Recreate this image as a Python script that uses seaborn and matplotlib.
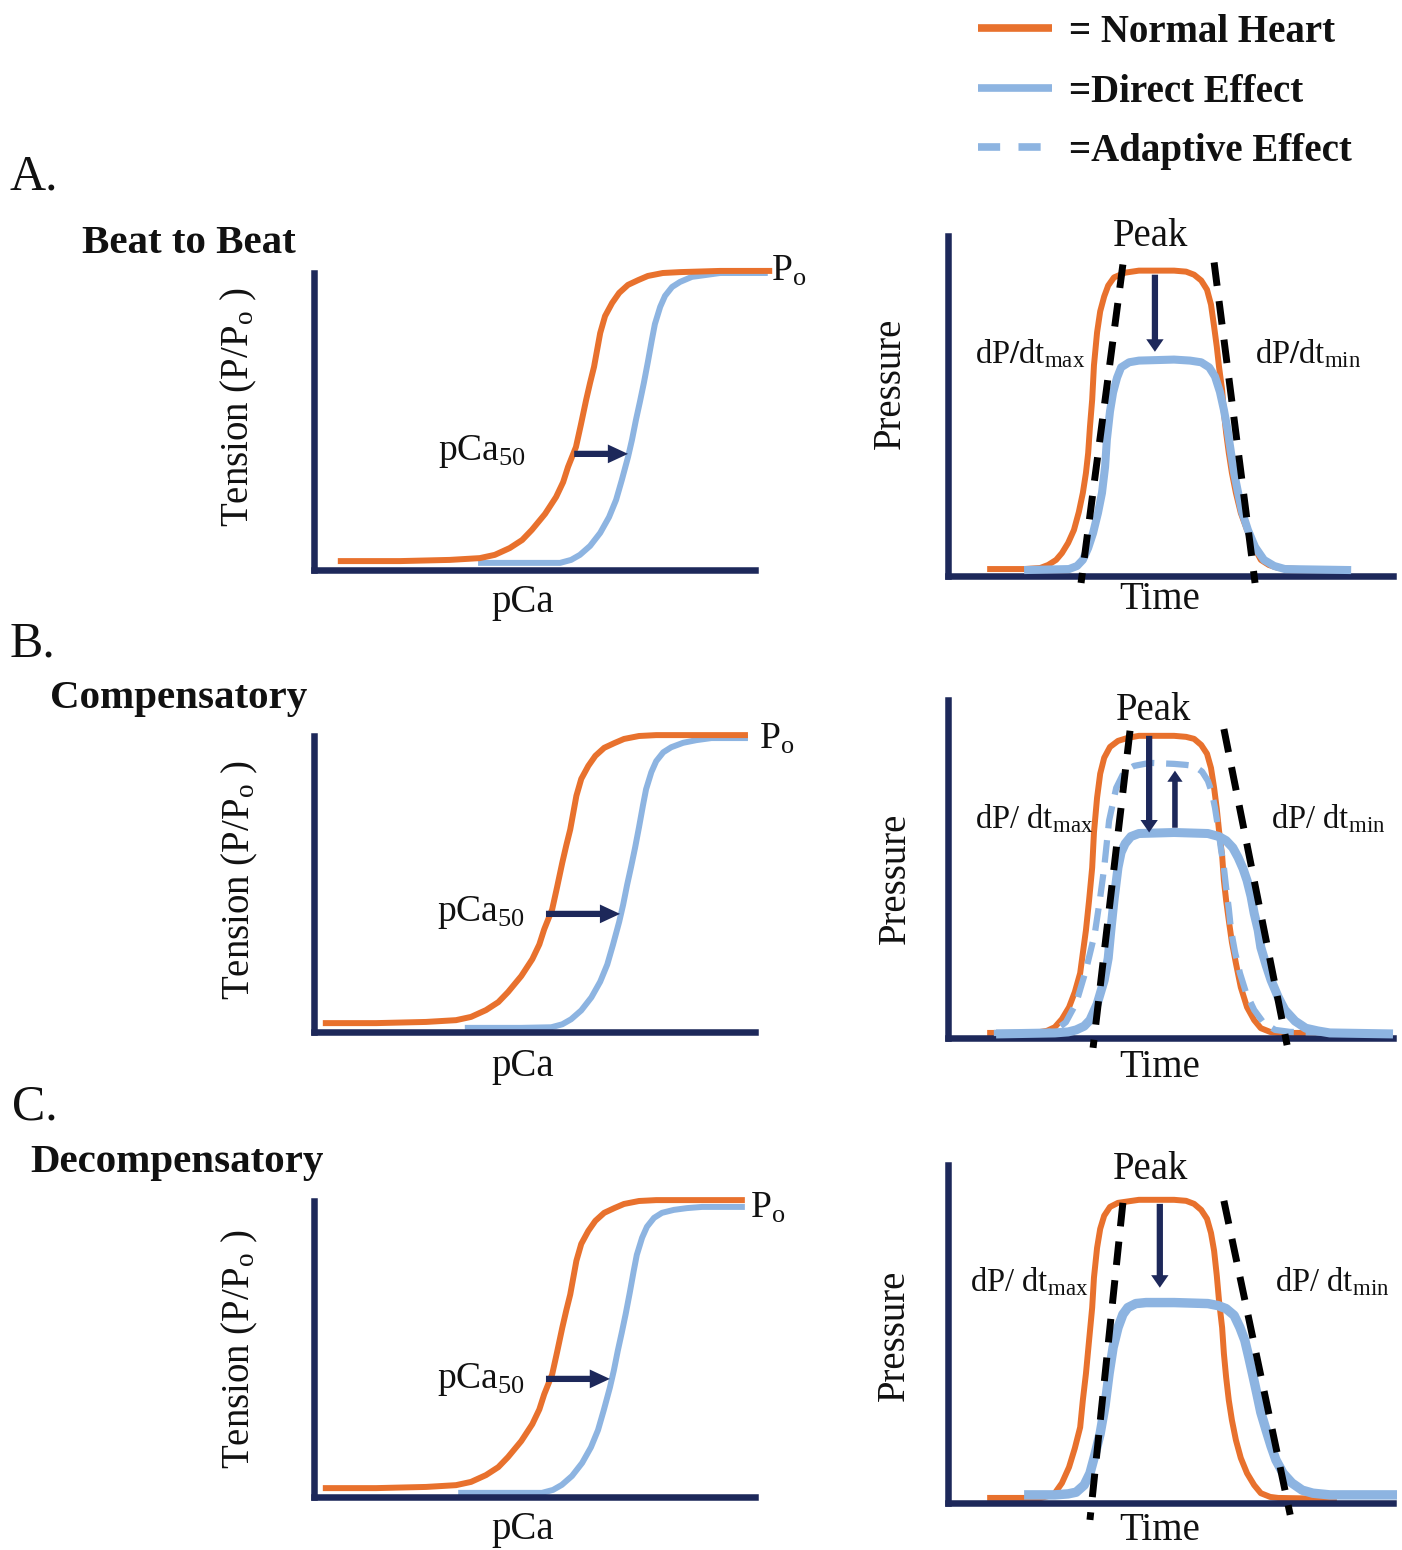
import matplotlib
matplotlib.use("Agg")
import matplotlib.pyplot as plt
from matplotlib.lines import Line2D
from matplotlib.font_manager import FontProperties
import seaborn as sns

# ---------------------------------------------------------------- data
# Left column: tension (% of P_o) versus pCa position (0-100 along the axis)
pca_a_normal_x = [5.4, 19.5, 30.8, 37.6, 41.0, 44.4, 47.2, 49.4, 52.4, 54.9, 56.5, 57.6, 59.4, 60.5, 61.7,
                  62.6, 63.5, 64.2, 64.9, 66.0, 67.6, 69.2, 71.2, 73.5, 75.7, 79.1, 83.0, 92.1, 103.9]
pca_a_normal_y = [3.0, 3.0, 3.4, 4.0, 5.1, 7.4, 10.1, 13.5, 18.9, 24.6, 29.6, 34.7, 41.4, 48.8, 57.2,
                  63.0, 68.4, 74.1, 79.8, 85.5, 89.9, 93.3, 96.0, 97.6, 99.0, 100.0, 100.3, 100.7, 100.7]
pca_a_direct_x = [37.2, 49.0, 55.8, 58.3, 60.3, 62.6, 64.9, 66.9, 68.5, 69.8, 71.2, 72.1, 73.0, 73.9,
                  74.8, 75.7, 76.6, 77.3, 78.5, 79.6, 81.2, 83.0, 85.7, 88.7, 92.1, 102.9]
pca_a_direct_y = [2.4, 2.4, 2.4, 3.4, 5.1, 8.1, 12.5, 17.8, 23.6, 30.3, 38.0, 43.8, 50.5, 56.6,
                  63.0, 70.0, 77.4, 82.8, 88.6, 92.3, 95.3, 97.0, 98.7, 99.3, 100.0, 100.0]

pca_b_normal_x = [2.0, 14.1, 25.4, 32.2, 35.6, 39.0, 41.8, 44.0, 47.0, 49.5, 51.1, 52.2, 54.0, 55.1, 56.3,
                  57.2, 58.1, 58.8, 59.5, 60.6, 62.2, 63.8, 65.8, 68.1, 70.3, 73.7, 77.6, 86.7, 98.4]
pca_b_normal_y = [3.0, 3.0, 3.4, 4.0, 5.1, 7.4, 10.1, 13.5, 18.9, 24.6, 29.6, 34.7, 41.4, 48.8, 57.2,
                  63.0, 68.4, 74.1, 79.8, 85.5, 89.9, 93.3, 96.0, 97.6, 99.0, 100.0, 100.3, 100.3, 100.3]
pca_b_direct_x = [34.2, 47.0, 53.8, 56.3, 58.3, 60.6, 62.9, 64.9, 66.5, 67.8, 69.2, 70.1, 71.0, 71.9,
                  72.8, 73.7, 74.6, 75.3, 76.5, 77.6, 79.2, 81.0, 83.7, 86.7, 90.1, 98.4]
pca_b_direct_y = [1.4, 1.4, 1.6, 2.6, 4.3, 7.3, 11.7, 17.0, 22.8, 29.5, 37.2, 43.0, 49.7, 55.8,
                  62.2, 69.2, 76.6, 82.0, 87.8, 91.5, 94.5, 96.2, 97.7, 98.6, 99.3, 99.3]

pca_c_normal_x = [2.0, 14.1, 25.4, 32.2, 35.6, 39.0, 41.8, 44.0, 47.0, 49.5, 51.1, 52.2, 54.0, 55.1, 56.3,
                  57.2, 58.1, 58.8, 59.5, 60.6, 62.2, 63.8, 65.8, 68.1, 70.3, 73.7, 77.6, 86.7, 97.7]
pca_c_normal_y = [3.0, 3.0, 3.4, 4.0, 5.1, 7.4, 10.1, 13.5, 18.9, 24.6, 29.6, 34.7, 41.4, 48.8, 57.2,
                  63.0, 68.4, 74.1, 79.8, 85.5, 89.9, 93.3, 96.0, 97.6, 99.0, 100.0, 100.3, 100.3, 100.3]
pca_c_direct_x = [32.7, 44.9, 51.7, 54.2, 56.2, 58.5, 60.8, 62.8, 64.4, 65.7, 67.1, 68.0, 68.9, 69.8,
                  70.7, 71.6, 72.5, 73.2, 74.4, 75.5, 77.1, 78.9, 81.6, 84.6, 88.0, 97.7]
pca_c_direct_y = [1.4, 1.4, 1.4, 2.4, 4.1, 7.1, 11.5, 16.8, 22.6, 29.3, 37.0, 42.8, 49.5, 55.6,
                  62.0, 69.0, 76.4, 81.8, 87.6, 91.3, 94.3, 96.0, 97.0, 97.6, 98.0, 98.0]

# pCa50 shift arrows: (x_start, x_end, y)
pca50_shift_a = [59.0, 71.2, 39.1]
pca50_shift_b = [52.6, 69.4, 39.9]
pca50_shift_c = [52.6, 67.1, 39.9]

# Right column: pressure versus time (0-100 along each axis)
prs_a_normal_x = [8.8, 17.1, 20.7, 22.5, 24.3, 25.6, 27.0, 28.3, 29.4, 30.3, 31.0, 31.5, 31.9, 32.4, 32.8,
                  33.5, 34.2, 35.1, 36.0, 37.3, 39.8, 42.9, 50.8, 53.5, 55.3, 56.9, 58.2, 59.1, 59.8,
                  60.4, 60.9, 61.6, 62.0, 62.5, 63.1, 63.8, 64.7, 65.8, 67.2, 68.8, 70.3, 72.1, 74.2,
                  79.1, 87.4]
prs_a_normal_y = [1.9, 1.9, 2.2, 3.1, 4.6, 6.6, 9.6, 13.4, 18.7, 24.3, 30.2, 36.1, 43.8, 51.8, 61.9,
                  71.6, 77.8, 82.2, 85.4, 87.8, 89.2, 89.8, 89.8, 89.5, 88.6, 86.9, 84.2, 79.8, 73.3,
                  67.4, 61.5, 54.7, 48.0, 42.0, 36.1, 30.2, 24.3, 18.4, 13.4, 8.4, 4.6, 3.1, 2.2,
                  1.9, 1.9]
prs_a_direct_x = [17.1, 27.2, 29.0, 30.3, 31.5, 32.6, 33.7, 34.6, 35.3, 35.7, 36.4, 37.1, 38.0, 38.9,
                  40.7, 42.9, 50.8, 54.4, 56.9, 58.7, 60.0, 61.1, 62.0, 62.9, 63.6, 64.3, 65.2, 66.1,
                  67.4, 69.0, 71.0, 73.3, 75.7, 90.6]
prs_a_direct_y = [1.6, 1.9, 2.8, 4.6, 8.1, 12.5, 18.4, 24.3, 32.0, 40.0, 48.3, 53.9, 58.3, 61.3,
                  62.8, 63.3, 63.6, 63.3, 62.8, 61.3, 58.6, 54.1, 48.8, 42.3, 36.1, 30.2, 24.3, 18.7,
                  13.4, 8.4, 4.6, 2.8, 1.9, 1.6]

prs_b_normal_x = [8.8, 19.3, 22.2, 24.0, 25.6, 27.2, 28.5, 29.7, 30.3, 31.0, 31.7, 32.4, 32.8, 33.5,
                  34.2, 35.1, 36.4, 38.2, 40.4, 42.9, 50.8, 53.5, 55.3, 56.9, 58.2, 59.1, 59.8, 60.4,
                  60.9, 61.6, 62.0, 62.5, 63.1, 63.8, 64.7, 65.8, 67.2, 68.8, 70.3, 72.4, 74.2, 87.4]
prs_b_normal_y = [1.5, 1.5, 2.1, 3.2, 5.6, 9.1, 13.6, 19.2, 25.1, 31.9, 40.7, 50.4, 60.8, 71.1,
                  78.2, 82.9, 86.1, 87.9, 88.8, 89.4, 89.4, 89.1, 88.5, 86.7, 84.1, 79.9, 74.0, 67.8,
                  61.4, 54.0, 46.6, 40.7, 34.8, 28.3, 22.1, 15.0, 9.1, 5.3, 2.9, 1.8, 1.5, 1.5]
prs_b_direct_x = [10.8, 24.0, 27.0, 28.8, 30.6, 31.9, 33.5, 35.1, 36.0, 36.6, 37.3, 38.2, 38.9, 39.8,
                  41.1, 42.9, 50.8, 58.4, 60.9, 62.5, 64.0, 65.2, 66.3, 67.2, 68.1, 68.8, 69.7, 70.3,
                  71.5, 72.6, 74.2, 75.7, 78.0, 80.4, 83.1, 85.8, 100.0]
prs_b_direct_y = [1.2, 1.5, 1.8, 2.4, 3.5, 5.3, 10.0, 17.1, 23.6, 31.9, 40.7, 50.4, 54.9, 57.5,
                  59.6, 60.5, 60.8, 60.5, 59.6, 58.4, 56.3, 53.4, 50.1, 46.6, 41.9, 36.9, 31.9, 26.8,
                  21.5, 17.1, 12.1, 8.3, 5.0, 2.9, 2.1, 1.5, 1.2]
prs_b_adaptive_x = [10.3, 20.7, 24.0, 26.5, 28.8, 31.0, 33.0, 34.2, 35.1, 36.2, 37.8, 39.6, 41.8, 45.4,
                    50.8, 53.5, 55.3, 57.1, 58.4, 59.3, 60.0, 60.7, 61.3, 62.0, 62.5, 63.1, 63.6, 64.5,
                    65.6, 67.0, 68.8, 70.8, 73.5, 76.9, 88.3]
prs_b_adaptive_y = [1.5, 1.5, 2.1, 4.7, 10.3, 20.1, 31.0, 41.6, 50.4, 64.3, 74.0, 78.8, 80.5, 81.4,
                    81.1, 80.8, 80.5, 78.8, 76.1, 72.6, 68.1, 62.2, 56.3, 50.4, 44.5, 38.3, 31.9, 25.4,
                    19.2, 13.3, 8.3, 4.7, 2.4, 1.8, 1.5]

prs_c_normal_x = [8.8, 20.9, 22.7, 24.0, 25.6, 27.2, 28.5, 29.7, 30.3, 31.0, 31.7, 32.4, 32.8, 33.5,
                  34.2, 35.1, 36.4, 38.2, 42.9, 50.8, 53.5, 55.3, 56.9, 58.2, 59.1, 59.8, 60.4, 60.9,
                  61.6, 62.0, 62.5, 63.1, 63.8, 64.7, 65.8, 67.2, 68.8, 70.3, 72.4, 74.2, 87.4]
prs_c_normal_y = [1.5, 1.5, 2.1, 2.9, 5.9, 10.6, 16.2, 22.4, 30.4, 38.3, 48.1, 57.8, 66.7, 75.5,
                  81.1, 85.0, 87.6, 88.8, 89.7, 89.7, 89.4, 88.5, 86.7, 84.1, 79.9, 74.6, 67.3, 59.9,
                  51.9, 44.2, 37.2, 30.4, 24.5, 18.6, 13.3, 8.8, 5.3, 2.9, 1.8, 1.5, 1.2]
prs_c_direct_x = [17.1, 24.0, 27.0, 28.8, 30.6, 31.9, 33.0, 34.2, 35.3, 36.2, 37.1, 38.2, 39.3, 40.4,
                  42.2, 44.5, 50.8, 58.4, 60.7, 62.5, 64.3, 65.6, 66.7, 67.6, 68.5, 69.4, 70.3, 71.5,
                  72.6, 73.7, 75.3, 77.3, 79.6, 82.0, 85.8, 89.9, 100.9]
prs_c_direct_y = [2.4, 2.4, 2.7, 3.2, 5.3, 8.8, 14.2, 20.6, 28.9, 38.3, 46.0, 51.9, 55.8, 57.8,
                  59.0, 59.3, 59.3, 59.0, 58.4, 57.5, 55.5, 51.9, 48.1, 43.1, 37.8, 32.4, 26.8, 21.5,
                  16.8, 12.7, 8.8, 5.9, 3.8, 2.9, 2.4, 2.4, 2.4]

# dP/dt tangent lines: [x_top, y_top, x_bottom, y_bottom]
dpdt_max_a = [39.3, 91.6, 29.9, -2.2]
dpdt_min_a = [59.8, 92.2, 69.0, -2.2]
dpdt_max_b = [40.9, 90.9, 32.6, -2.9]
dpdt_min_b = [62.0, 91.4, 76.2, -2.1]
dpdt_max_c = [39.3, 88.8, 31.9, -5.0]
dpdt_min_c = [62.0, 89.4, 76.9, -3.5]

# peak-change arrows: [x, y_start, y_end]
peak_drop_a = [46.5, 88.6, 65.9]
peak_drop_b = [45.2, 89.4, 60.8]
peak_rise_b = [51.0, 62.2, 79.1]
peak_drop_c = [47.6, 88.5, 63.7]

legend_labels = ["= Normal Heart", "=Direct Effect", "=Adaptive Effect"]
panel_letters = ["A.", "B.", "C."]
panel_titles = ["Beat to Beat", "Compensatory", "Decompensatory"]

# ---------------------------------------------------------------- style
ORANGE = "#E8712D"
BLUE = "#8DB4E1"
NAVY = "#1D285A"
BLACK = "#000000"
TEXT = "#111111"

sns.set_style("white")
plt.rcParams["font.family"] = ["Liberation Serif", "DejaVu Serif"]
plt.rcParams["mathtext.fontset"] = "custom"
plt.rcParams["mathtext.rm"] = "Liberation Serif"
plt.rcParams["mathtext.it"] = "Liberation Serif:italic"
plt.rcParams["mathtext.bf"] = "Liberation Serif:bold"
plt.rcParams["mathtext.default"] = "regular"
plt.rcParams["text.color"] = TEXT

W, H = 1402, 1550
fig = plt.figure(figsize=(W / 100, H / 100), dpi=100)
fig.patch.set_facecolor("white")


def frac(px, py):
    return px / W, 1 - py / H


def make_axes(left, top, right, bottom):
    x0, y0 = frac(left, bottom)
    x1, y1 = frac(right, top)
    ax = fig.add_axes([x0, y0, x1 - x0, y1 - y0])
    ax.set_xlim(0, 100)
    ax.set_ylim(0, 100)
    ax.set_xticks([])
    ax.set_yticks([])
    ax.patch.set_alpha(0)
    sns.despine(ax=ax)
    for side in ("left", "bottom"):
        ax.spines[side].set_color(NAVY)
        ax.spines[side].set_linewidth(4.7)
        ax.spines[side].set_capstyle("projecting")
    return ax


def trace(ax, xs, ys, color, lw, ls="-", z=2):
    sns.lineplot(x=xs, y=ys, ax=ax, color=color, linewidth=lw, linestyle=ls,
                 sort=False, estimator=None, legend=False, clip_on=False, zorder=z,
                 solid_capstyle="butt", dash_capstyle="butt", solid_joinstyle="round")


def arrow(ax, start, end, tail, head_w, head_l):
    ax.annotate("", xy=end, xytext=start, annotation_clip=False,
                arrowprops=dict(arrowstyle=f"simple,head_length={head_l},head_width={head_w},tail_width={tail}",
                                mutation_scale=10, fc=NAVY, ec="none", shrinkA=0, shrinkB=0),
                zorder=6)


def axis_titles(ax, xtext, xpos, ytext, ypos):
    ax.text(xpos[0], xpos[1], xtext, transform=ax.transAxes, fontsize=28,
            ha="center", va="center", clip_on=False)
    ax.text(ypos[0], ypos[1], ytext, transform=ax.transAxes, fontsize=28, rotation=90,
            ha="center", va="center", clip_on=False)


BLACK_DASH = (0, (3.4, 2.2))
ADAPT_DASH = (0, (3.6, 1.9))

# ---------------------------------------------------------------- left column
left_panels = [
    (273, 570, pca_a_normal_x, pca_a_normal_y, pca_a_direct_x, pca_a_direct_y, pca50_shift_a,
     (-0.170, 0.549), (0.474, -0.111), (48.1, 37.0), (103.6, 97.6)),
    (736, 1032, pca_b_normal_x, pca_b_normal_y, pca_b_direct_x, pca_b_direct_y, pca50_shift_b,
     (-0.168, 0.513), (0.474, -0.115), (47.8, 37.5), (101.0, 95.9)),
    (1201, 1497, pca_c_normal_x, pca_c_normal_y, pca_c_direct_x, pca_c_direct_y, pca50_shift_c,
     (-0.168, 0.500), (0.474, -0.111), (47.8, 36.8), (98.8, 94.3)),
]
for top, bottom, nx, ny, dx, dy, shift, ylab, xlab, p50, po in left_panels:
    ax = make_axes(314, top, 755, bottom)
    trace(ax, nx, ny, ORANGE, 4.3, z=3)
    trace(ax, dx, dy, BLUE, 4.3, z=2)
    arrow(ax, (shift[0], shift[2]), (shift[1], shift[2]), 0.45, 1.35, 1.45)
    axis_titles(ax, "pCa", xlab, r"Tension (P/P$_{\mathrm{o}}$ )", ylab)
    ax.text(p50[0], p50[1], r"pCa$_{50}$", fontsize=27, ha="right", va="baseline")
    ax.text(po[0], po[1], r"P$_{\mathrm{o}}$", fontsize=27, ha="left", va="baseline", clip_on=False)

# ---------------------------------------------------------------- right column
right_panels = [
    (236, 575.5, prs_a_normal_x, prs_a_normal_y, prs_a_direct_x, prs_a_direct_y, None, None,
     dpdt_max_a, dpdt_min_a, [peak_drop_a], [], 5.8,
     (-0.130, 0.567), (0.476, -0.072), (45.6, 99.9), (6.1, 62.4), (69.0, 62.4),
     r"dP$\mathbf{/}$dt$_{\mathrm{max}}$", r"dP$\mathbf{/}$dt$_{\mathrm{min}}$"),
    (700, 1038, prs_b_normal_x, prs_b_normal_y, prs_b_direct_x, prs_b_direct_y,
     prs_b_adaptive_x, prs_b_adaptive_y,
     dpdt_max_b, dpdt_min_b, [peak_drop_b], [peak_rise_b], 6.5,
     (-0.119, 0.473), (0.476, -0.086), (46.3, 96.8), (6.1, 62.2), (72.6, 62.2),
     r"dP/ dt$_{\mathrm{max}}$", r"dP/ dt$_{\mathrm{min}}$"),
    (1165, 1503, prs_c_normal_x, prs_c_normal_y, prs_c_direct_x, prs_c_direct_y, None, None,
     dpdt_max_c, dpdt_min_c, [peak_drop_c], [], 6.8,
     (-0.121, 0.497), (0.476, -0.080), (45.6, 98.8), (4.9, 62.8), (73.5, 62.8),
     r"dP/ dt$_{\mathrm{max}}$", r"dP/ dt$_{\mathrm{min}}$"),
]
for (top, bottom, nx, ny, dx, dy, adx, ady, tmax, tmin, drops, rises, blue_lw,
     ylab, xlab, peak, tmax_pos, tmin_pos, tmax_txt, tmin_txt) in right_panels:
    ax = make_axes(948, top, 1393, bottom)
    trace(ax, nx, ny, ORANGE, 4.3, z=2)
    trace(ax, dx, dy, BLUE, blue_lw, z=3)
    if adx is not None:
        trace(ax, adx, ady, BLUE, 4.5, ls=ADAPT_DASH, z=3.5)
    for seg in (tmax, tmin):
        trace(ax, [seg[0], seg[2]], [seg[1], seg[3]], BLACK, 5.0, ls=BLACK_DASH, z=4)
    for a in drops:
        arrow(ax, (a[0], a[1]), (a[0], a[2]), 0.45, 1.25, 0.9)
    for a in rises:
        arrow(ax, (a[0], a[1]), (a[0], a[2]), 0.4, 1.1, 0.8)
    axis_titles(ax, "Time", xlab, "Pressure", ylab)
    ax.text(peak[0], peak[1], "Peak", fontsize=28, ha="center", va="center", clip_on=False)
    ax.text(tmax_pos[0], tmax_pos[1], tmax_txt, fontsize=23.5, ha="left", va="baseline")
    ax.text(tmin_pos[0], tmin_pos[1], tmin_txt, fontsize=23.5, ha="left", va="baseline")

# ---------------------------------------------------------------- panel headings
letter_pos = [(10, 190), (10, 657), (12, 1120)]
title_pos = [(82, 253), (50, 708), (30, 1172)]
for letter, (lx, ly), title, (tx, ty) in zip(panel_letters, letter_pos, panel_titles, title_pos):
    fig.text(*frac(lx, ly), letter, fontsize=36, ha="left", va="baseline")
    fig.text(*frac(tx, ty), title, fontsize=29.5, fontweight="bold", ha="left", va="baseline")

# ---------------------------------------------------------------- legend
handles = [
    Line2D([], [], color=ORANGE, lw=5.5, solid_capstyle="butt"),
    Line2D([], [], color=BLUE, lw=5.5, solid_capstyle="butt"),
    Line2D([], [], color=BLUE, lw=5.5, linestyle=(0, (2.9, 2.4)), dash_capstyle="butt"),
]
fig.legend(handles, legend_labels, loc="upper left", bbox_to_anchor=frac(978, 14),
           frameon=False, prop=FontProperties(family="Liberation Serif", weight="bold", size=28),
           handlelength=1.9, handletextpad=0.45, labelspacing=0.58, borderpad=0, borderaxespad=0)

fig.savefig("out.png", dpi=100, facecolor="white")
